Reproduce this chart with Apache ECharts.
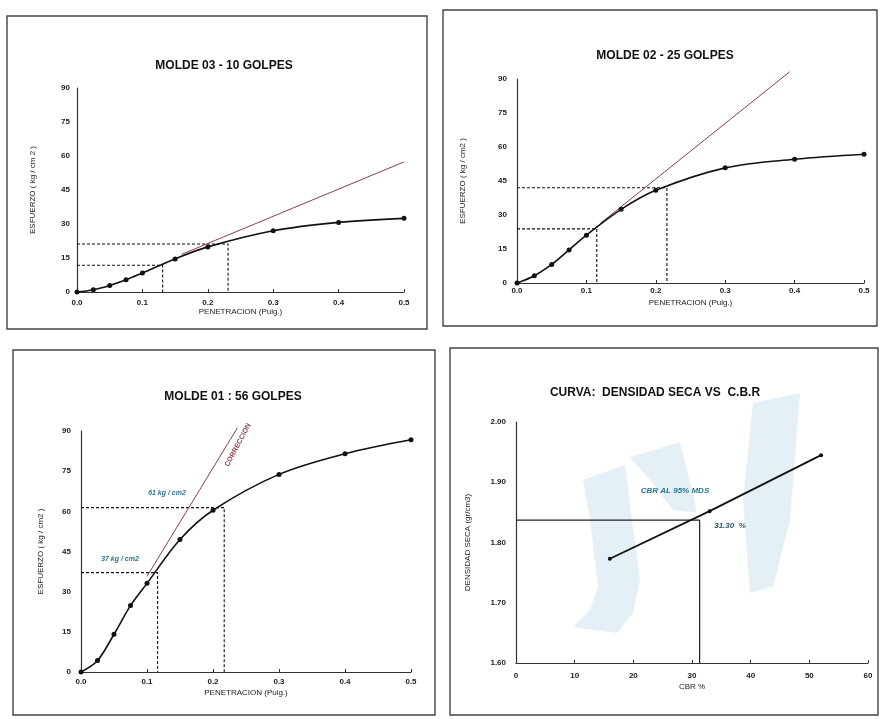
<!DOCTYPE html>
<html>
<head>
<meta charset="utf-8">
<script src="https://cdn.jsdelivr.net/npm/echarts@6/dist/echarts.min.js"></script>
<style>
html, body { margin: 0; padding: 0; background: #fff; }
#chart { width: 880px; height: 719px; }
</style>
</head>
<body>
<div id="chart"></div>
<script>
// penetracion (pulg.) de cada lectura
const PEN = [0, 0.025, 0.05, 0.075, 0.1, 0.15, 0.2, 0.3, 0.4, 0.5];
// esfuerzo (kg/cm2) por molde
const ESF_M03 = [0, 1.0, 2.9, 5.4, 8.4, 14.6, 19.9, 27.0, 30.7, 32.5];
const ESF_M02 = [0, 3.2, 8.2, 14.6, 21.1, 32.5, 40.9, 50.8, 54.6, 56.8];
const ESF_M01 = [0, 4.3, 14.1, 24.8, 33.1, 49.5, 60.4, 73.8, 81.5, 86.7];

// recta de correccion (extremos)
const CORR_M03 = [[0.16, 16.6], [0.5, 57.4]];
const CORR_M02 = [[0.12, 26.3], [0.393, 93.2]];
const CORR_M01 = [[0.1, 35.7], [0.237, 91.2]];

// lecturas corregidas a 0.1" y 0.2"
const LECT_PEN_M03 = [0.131, 0.231];
const LECT_ESF_M03 = [11.8, 21.2];
const LECT_PEN_M02 = [0.115, 0.216];
const LECT_ESF_M02 = [23.9, 42.0];
const LECT_PEN_M01 = [0.116, 0.217];
const LECT_ESF_M01 = [37.1, 61.4];

// densidad seca vs CBR
const CBR = [16, 33, 52];
const DENS = [1.773, 1.852, 1.945];
const CBR_95 = 31.3;
const DENS_95 = 1.837;

const PEN_TICKS = [0, 0.5, 0.1];   // min, max, intervalo
const ESF_TICKS = [0, 90, 15];
const CBR_TICKS = [0, 60, 10];
const DENS_TICKS = [1.6, 2.0, 0.1];

const FONT = 'Liberation Sans, Arial, sans-serif';
const RED = '#8a4048';
const TEAL = '#2b7590';

const chart = echarts.init(document.getElementById('chart'));

function xAxisCfg(gi, ticks, name, nameGap, margin, dec) {
  return {
    type: 'value', gridIndex: gi,
    min: ticks[0], max: ticks[1], interval: ticks[2],
    name: name, nameLocation: 'middle', nameGap: nameGap,
    nameTextStyle: { fontFamily: FONT, fontSize: 8, color: '#222' },
    axisLine: { lineStyle: { color: '#333', width: 1.2 } },
    axisTick: { inside: true, length: 3, lineStyle: { color: '#333' } },
    axisLabel: { margin: margin, fontFamily: FONT, fontSize: 8, fontWeight: 'bold', color: '#222',
      formatter: v => v.toFixed(dec) },
    splitLine: { show: false }
  };
}
function yAxisCfg(gi, ticks, name, nameGap, margin, dec) {
  const a = xAxisCfg(gi, ticks, name, nameGap, margin, dec);
  a.axisTick = { show: false };
  return a;
}

function curve(gi, xs, ys, name) {
  return {
    name: name, type: 'line', xAxisIndex: gi, yAxisIndex: gi,
    data: xs.map((x, i) => [x, ys[i]]),
    smooth: 0.35, symbol: 'circle', symbolSize: 5,
    itemStyle: { color: '#111' }, lineStyle: { color: '#111', width: 1.6 },
    z: 5
  };
}
function corr(gi, pts) {
  return {
    type: 'line', xAxisIndex: gi, yAxisIndex: gi, data: pts,
    symbol: 'none', clip: false, silent: true,
    lineStyle: { color: RED, width: 1 }, z: 3
  };
}
function lecturas(gi, ps, vs, solid) {
  return ps.map((p, i) => ({
    type: 'line', xAxisIndex: gi, yAxisIndex: gi,
    data: [[0, vs[i]], [p, vs[i]], [p, gi === 3 ? DENS_TICKS[0] : 0]],
    symbol: 'none', silent: true,
    lineStyle: { color: solid ? '#222' : '#111', width: solid ? 1.2 : 1.1, type: solid ? 'solid' : [3, 2] },
    z: 2
  }));
}

function txt(x, y, text, opt, rot) {
  return {
    type: 'text', x: x, y: y, rotation: (rot || 0) * Math.PI / 180,
    style: Object.assign({ text: text, fontFamily: FONT, fontSize: 12, fontWeight: 'bold', fill: '#111',
      align: 'center', verticalAlign: 'middle' }, opt || {}),
    z: 10
  };
}
function box(x, y, w, h) {
  return { type: 'rect', shape: { x: x, y: y, width: w, height: h },
    style: { fill: null, stroke: '#444', lineWidth: 1.4 }, z: 0, silent: true };
}
function wm(points) {
  return { type: 'polygon', shape: { points: points }, style: { fill: 'rgba(190,220,232,0.42)' }, z: 0, silent: true };
}

const option = {
  backgroundColor: '#fff',
  animation: false,
  grid: [
    { left: 77, top: 88, width: 327, height: 204 },
    { left: 517, top: 79, width: 347, height: 204 },
    { left: 81, top: 431, width: 330, height: 241 },
    { left: 516, top: 422, width: 352, height: 241 }
  ],
  xAxis: [
    xAxisCfg(0, PEN_TICKS, 'PENETRACION (Pulg.)', 16, 7, 1),
    xAxisCfg(1, PEN_TICKS, 'PENETRACION (Pulg.)', 16, 4, 1),
    xAxisCfg(2, PEN_TICKS, 'PENETRACION (Pulg.)', 17, 6, 1),
    xAxisCfg(3, CBR_TICKS, 'CBR %', 20, 9, 0)
  ],
  yAxis: [
    yAxisCfg(0, ESF_TICKS, 'ESFUERZO ( kg / cm 2 )', 40, 7, 0),
    yAxisCfg(1, ESF_TICKS, 'ESFUERZO ( kg / cm2 )', 50, 10, 0),
    yAxisCfg(2, ESF_TICKS, 'ESFUERZO ( kg / cm2 )', 36, 10, 0),
    yAxisCfg(3, DENS_TICKS, 'DENSIDAD SECA (gr/cm3)', 44, 10, 2)
  ],
  series: [
    corr(0, CORR_M03), ...lecturas(0, LECT_PEN_M03, LECT_ESF_M03), curve(0, PEN, ESF_M03, 'MOLDE 03'),
    corr(1, CORR_M02), ...lecturas(1, LECT_PEN_M02, LECT_ESF_M02), curve(1, PEN, ESF_M02, 'MOLDE 02'),
    corr(2, CORR_M01), ...lecturas(2, LECT_PEN_M01, LECT_ESF_M01), curve(2, PEN, ESF_M01, 'MOLDE 01'),
    ...lecturas(3, [CBR_95], [DENS_95], true),
    Object.assign(curve(3, CBR, DENS, 'DENSIDAD'), { smooth: false, symbolSize: 4, lineStyle: { color: '#111', width: 1.8 } })
  ],
  graphic: [
    box(7, 16, 420, 313),
    box(443, 10, 434, 316),
    box(13, 350, 422, 365),
    box(450, 348, 428, 367),
    // marca de agua
    wm([[583, 480], [625, 465], [632, 520], [640, 580], [633, 613], [617, 633], [573, 627], [590, 610], [598, 587], [590, 520]]),
    wm([[630, 457], [680, 442], [692, 490], [697, 513], [673, 510], [650, 480]]),
    wm([[753, 403], [800, 393], [790, 520], [773, 587], [750, 593], [743, 500]]),
    txt(224, 66, 'MOLDE 03 - 10 GOLPES'),
    txt(665, 56, 'MOLDE 02 - 25 GOLPES'),
    txt(233, 397, 'MOLDE 01 : 56 GOLPES'),
    txt(655, 393, 'CURVA:  DENSIDAD SECA VS  C.B.R'),
    txt(238, 445, 'CORRECCION', { fontSize: 7, fill: RED }, 62),
    txt(167, 493, Math.round(LECT_ESF_M01[1]) + ' kg / cm2', { fontSize: 7, fontStyle: 'italic', fill: TEAL }),
    txt(120, 559, Math.round(LECT_ESF_M01[0]) + ' kg / cm2', { fontSize: 7, fontStyle: 'italic', fill: TEAL }),
    txt(675, 491, 'CBR AL 95% MDS', { fontSize: 8, fontStyle: 'italic', fill: TEAL }),
    txt(730, 526, CBR_95.toFixed(2) + '  %', { fontSize: 8, fontStyle: 'italic', fill: '#2a5a6a' })
  ]
};

chart.setOption(option);
</script>
</body>
</html>
